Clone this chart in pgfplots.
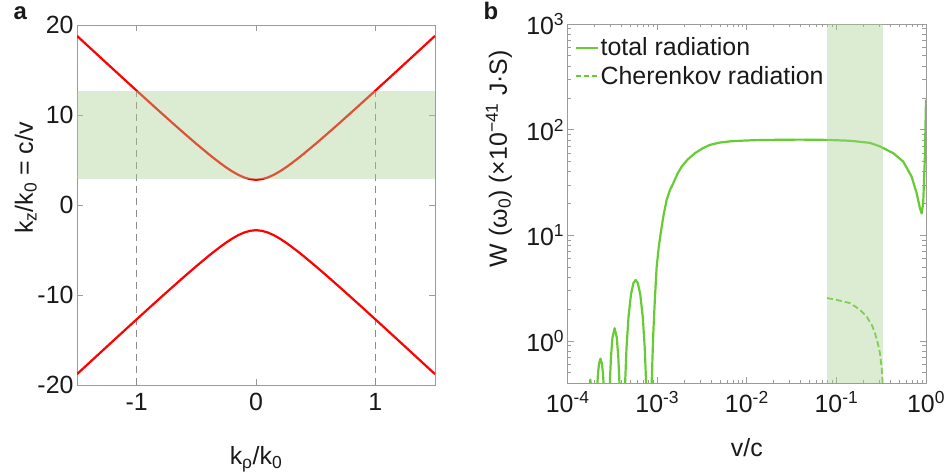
\documentclass[border=0pt]{standalone}
\usepackage{fontspec}
\setmainfont{Liberation Sans}
\usepackage{pgfplots}
\pgfplotsset{compat=1.18}
\definecolor{linegreen}{RGB}{102,204,51}
\definecolor{shadegreen}{RGB}{168,208,143}
\definecolor{axisgray}{RGB}{155,155,155}
\definecolor{dashgray}{RGB}{140,140,140}
\definecolor{txt}{RGB}{25,25,25}
\pgfplotsset{
  myaxis/.style={
    scale only axis,
    axis line style={axisgray, line width=0.9bp},
    every tick/.style={axisgray, line width=0.7bp},
    major tick length=6bp,
    minor tick length=3.5bp,
    tick align=inside,
    ticklabel style={font=\fontsize{25}{29}\selectfont, text=txt},
    xticklabel style={yshift=-5bp},
    label style={font=\fontsize{25}{29}\selectfont, text=txt},
  }
}
\begin{document}
\begin{tikzpicture}
\useasboundingbox (0,0) rectangle (947bp,475bp);
\node[font=\bfseries\fontsize{24}{28}\selectfont, text=txt, anchor=base west] at (10bp,455bp) {a};
\node[font=\bfseries\fontsize{24}{28}\selectfont, text=txt, anchor=base west] at (480bp,455bp) {b};
% ---------------- panel a
\begin{axis}[myaxis, at={(77bp,90bp)}, anchor=south west, width=358bp, height=360bp,
  xmin=-1.5, xmax=1.5, ymin=-20, ymax=20,
  xtick={-1,0,1}, xticklabels={-1,0,1},
  ytick={-20,-10,0,10,20}, yticklabels={-20,-10,0,10,20},
  xlabel={k\textsubscript{ρ}/k\textsubscript{0}},
  ylabel={k\textsubscript{z}/k\textsubscript{0} = c/v},
  xlabel style={at={(axis description cs:0.5,-0.222)}, anchor=base},
  ylabel style={at={(axis description cs:-0.123,0.575)}, anchor=base},
]
\addplot[dashgray, line width=1.4bp, dash pattern=on 7bp off 5bp] coordinates {(-1,-20) (-1,12.7)};
\addplot[dashgray, line width=1.4bp, dash pattern=on 7bp off 5bp] coordinates {(1,-20) (1,12.7)};
\addplot[red, line width=2.2bp, line join=round] table {
x y
-1.5 18.794
-1.4 17.570
-1.3 16.348
-1.2 15.129
-1.1 13.913
-1.0 12.702
-0.9 11.497
-0.8 10.300
-0.7 9.113
-0.6 7.944
-0.5 6.798
-0.4 5.692
-0.35 5.162
-0.3 4.654
-0.25 4.175
-0.2 3.739
-0.15 3.361
-0.1 3.062
-0.05 2.868
0 2.8
0.05 2.868
0.1 3.062
0.15 3.361
0.2 3.739
0.25 4.175
0.3 4.654
0.35 5.162
0.4 5.692
0.5 6.798
0.6 7.944
0.7 9.113
0.8 10.300
0.9 11.497
1.0 12.702
1.1 13.913
1.2 15.129
1.3 16.348
1.4 17.570
1.5 18.794
};
\addplot[red, line width=2.2bp, line join=round] table {
x y
-1.5 -18.794
-1.4 -17.570
-1.3 -16.348
-1.2 -15.129
-1.1 -13.913
-1.0 -12.702
-0.9 -11.497
-0.8 -10.300
-0.7 -9.113
-0.6 -7.944
-0.5 -6.798
-0.4 -5.692
-0.35 -5.162
-0.3 -4.654
-0.25 -4.175
-0.2 -3.739
-0.15 -3.361
-0.1 -3.062
-0.05 -2.868
0 -2.8
0.05 -2.868
0.1 -3.062
0.15 -3.361
0.2 -3.739
0.25 -4.175
0.3 -4.654
0.35 -5.162
0.4 -5.692
0.5 -6.798
0.6 -7.944
0.7 -9.113
0.8 -10.300
0.9 -11.497
1.0 -12.702
1.1 -13.913
1.2 -15.129
1.3 -16.348
1.4 -17.570
1.5 -18.794
};
\addplot[fill=shadegreen, fill opacity=0.4, draw=none] coordinates {(-1.5,2.85) (1.5,2.85) (1.5,12.7) (-1.5,12.7)} -- cycle;
\end{axis}
% ---------------- panel b
\begin{axis}[myaxis, at={(567.7bp,92bp)}, anchor=south west, width=358.3bp, height=359bp,
  xmode=log, ymode=log, xmin=1e-4, xmax=1, ymin=0.4, ymax=1000,
  xtick={1e-4,1e-3,1e-2,1e-1,1},
  xticklabels={10\textsuperscript{-4},10\textsuperscript{-3},10\textsuperscript{-2},10\textsuperscript{-1},10\textsuperscript{0}},
  minor xtick={2e-4,3e-4,4e-4,5e-4,6e-4,7e-4,8e-4,9e-4,2e-3,3e-3,4e-3,5e-3,6e-3,7e-3,8e-3,9e-3,2e-2,3e-2,4e-2,5e-2,6e-2,7e-2,8e-2,9e-2,0.2,0.3,0.4,0.5,0.6,0.7,0.8,0.9},
  ytick={1,10,100,1000},
  yticklabels={10\textsuperscript{0},10\textsuperscript{1},10\textsuperscript{2},10\textsuperscript{3}},
  minor ytick={0.5,0.6,0.7,0.8,0.9,2,3,4,5,6,7,8,9,20,30,40,50,60,70,80,90,200,300,400,500,600,700,800,900},
  xlabel={v/c},
  ylabel={W (ω\textsubscript{0}) (×10\textsuperscript{−41} J·S)},
  xlabel style={at={(axis description cs:0.5,-0.205)}, anchor=base},
  ylabel style={at={(axis description cs:-0.170,0.625)}, anchor=base},
  legend style={at={(0.01,0.98)}, anchor=north west, draw=none, fill=none,
    font=\fontsize{25}{29}\selectfont, text=txt, nodes={inner ysep=4.5bp}},
  legend cell align=left,
]
\addlegendimage{linegreen, line width=2.2bp, legend image code/.code={\draw[linegreen, line width=2.2bp] (0bp,0bp) -- (22bp,0bp);}}
\addlegendentry{total radiation}
\addlegendimage{linegreen, line width=1.8bp, legend image code/.code={\draw[linegreen, line width=1.8bp, dash pattern=on 5bp off 3bp] (0bp,0bp) -- (22bp,0bp);}}
\addlegendentry{Cherenkov radiation}
\addplot[linegreen, line width=2.2bp, line join=round, forget plot] table {
x y
1.685e-4 0.2
1.742e-4 0.36
1.787e-4 0.43
1.834e-4 0.36
1.941e-4 0.02
2.069e-4 0.19
2.123e-4 0.34
2.178e-4 0.488
2.235e-4 0.606
2.323e-4 0.68
2.414e-4 0.606
2.477e-4 0.488
2.542e-4 0.34
2.608e-4 0.19
2.767e-4 0.02
2.890e-4 0.21
2.966e-4 0.44
3.043e-4 0.707
3.162e-4 1.08
3.342e-4 1.32
3.532e-4 1.08
3.671e-4 0.707
3.767e-4 0.44
3.865e-4 0.21
4.069e-4 0.02
4.250e-4 0.149
4.361e-4 0.369
4.532e-4 0.850
4.771e-4 1.679
5.087e-4 2.757
5.424e-4 3.544
5.732e-4 3.78
6.058e-4 3.544
6.461e-4 2.757
6.889e-4 1.679
7.253e-4 0.850
7.537e-4 0.369
7.734e-4 0.149
8.080e-4 0.02
8.398e-4 0.15
8.661e-4 0.4
9.024e-4 1.18
9.426e-4 2.6
9.847e-4 5.05
1.040e-3 7.8
1.091e-3 10.4
1.180e-3 15.8
1.273e-3 21.6
1.380e-3 26.6
1.509e-3 31.1
1.680e-3 38.2
1.872e-3 44.7
2.200e-3 52.5
2.635e-3 59.9
3.200e-3 66.5
3.874e-3 71.8
5.010e-3 75.5
6.500e-3 77.5
8.375e-3 78.5
1.200e-2 79.5
1.810e-2 80
3.914e-2 80.5
0.0787 80
0.1415 78.5
0.2365 75
0.3058 69.5
0.4304 59.9
0.5566 49.9
0.6908 36
0.7858 25.1
0.8550 18.1
0.8932 16.1
0.9307 20.1
0.9721 55.6
1.0 192
};
\addplot[linegreen, line width=1.8bp, dash pattern=on 6bp off 3bp, forget plot] table {
x y
0.0787 2.55
0.1 2.45
0.1415 2.28
0.18 2.0
0.2176 1.70
0.25 1.40
0.269 1.19
0.29 0.95
0.306 0.77
0.32 0.55
0.328 0.4
0.332 0.25
};
\addplot[fill=shadegreen, fill opacity=0.4, draw=none, forget plot] coordinates {(0.0787,0.4) (0.333,0.4) (0.333,1000) (0.0787,1000)} -- cycle;
\end{axis}
\end{tikzpicture}
\end{document}
